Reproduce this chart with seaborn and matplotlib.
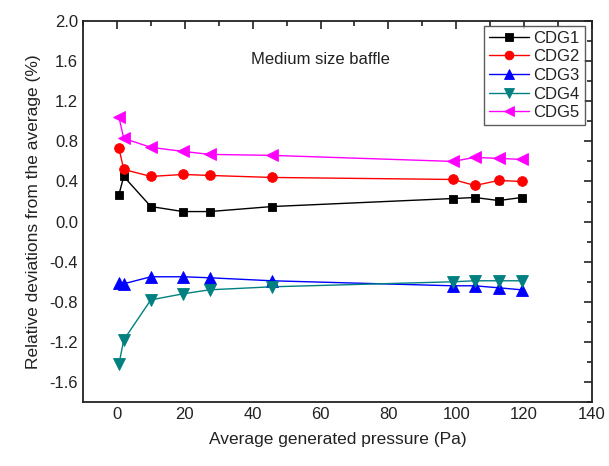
import numpy as np
import pandas as pd
import matplotlib
matplotlib.use("Agg")
import matplotlib.pyplot as plt
import seaborn as sns
from matplotlib.ticker import MultipleLocator

pressure = [0.6, 2.0, 10.0, 19.5, 27.3, 45.7, 99.0, 105.5, 112.5, 119.3]
cdg1 = [0.27, 0.45, 0.15, 0.10, 0.10, 0.15, 0.23, 0.24, 0.21, 0.24]
cdg2 = [0.73, 0.52, 0.45, 0.47, 0.46, 0.44, 0.42, 0.36, 0.41, 0.40]
cdg3 = [-0.61, -0.62, -0.55, -0.55, -0.56, -0.59, -0.64, -0.64, -0.66, -0.68]
cdg4 = [-1.42, -1.18, -0.78, -0.72, -0.68, -0.65, -0.60, -0.59, -0.59, -0.59]
cdg5 = [1.04, 0.83, 0.74, 0.70, 0.67, 0.66, 0.60, 0.64, 0.63, 0.62]
names = ["CDG1", "CDG2", "CDG3", "CDG4", "CDG5"]
colors = ["#000000", "#ff0000", "#0000ff", "#008080", "#ff00ff"]
markers = ["s", "o", "^", "v", "<"]
msizes = [6.3, 7, 8, 8, 8]

sns.set_style("white")
plt.rcParams["font.family"] = ["Liberation Sans", "DejaVu Sans"]

fig = plt.figure(figsize=(6.09, 4.66), dpi=100)
ax = fig.add_axes([0.1363, 0.137, 0.8357, 0.818])

for n, vals, c, m, ms in zip(names, [cdg1, cdg2, cdg3, cdg4, cdg5], colors, markers, msizes):
    d = pd.DataFrame({"x": pressure, "y": vals})
    sns.lineplot(data=d, x="x", y="y", color=c, marker=m, markersize=ms,
                 markeredgecolor=c, markeredgewidth=0.6, linewidth=1.0,
                 ax=ax, label=n)

ax.set_xlim(-10, 140)
ax.set_ylim(-1.8, 2.0)
ax.xaxis.set_major_locator(MultipleLocator(20))
ax.xaxis.set_minor_locator(MultipleLocator(10))
ax.yaxis.set_major_locator(MultipleLocator(0.4))
ax.yaxis.set_minor_locator(MultipleLocator(0.2))
ax.yaxis.set_major_formatter(matplotlib.ticker.FormatStrFormatter("%.1f"))
ax.tick_params(which="both", direction="in", top=True, right=True, labelsize=12,
               width=1.2, colors="#222222")
ax.tick_params(which="major", length=6)
ax.tick_params(which="minor", length=3.5)
for s in ax.spines.values():
    s.set_linewidth(1.3)
    s.set_color("#222222")

ax.set_xlabel("Average generated pressure (Pa)", fontsize=12.5, labelpad=7, color="#222222")
ax.set_ylabel("Relative deviations from the average (%)", fontsize=12.5, labelpad=6, color="#222222")
ax.text(39.5, 1.62, "Medium size baffle", fontsize=12, va="center", ha="left", color="#222222")

leg = ax.legend(loc="upper right", bbox_to_anchor=(0.9855, 0.988), fontsize=12,
                frameon=True, fancybox=False, edgecolor="#333333",
                handlelength=2.4, handletextpad=0.25, borderpad=0.3, labelspacing=0.22,
                borderaxespad=0.0, markerscale=0.9)
leg.get_frame().set_linewidth(1.0)
for t in leg.get_texts():
    t.set_color("#222222")

fig.savefig("out.png", dpi=100)
